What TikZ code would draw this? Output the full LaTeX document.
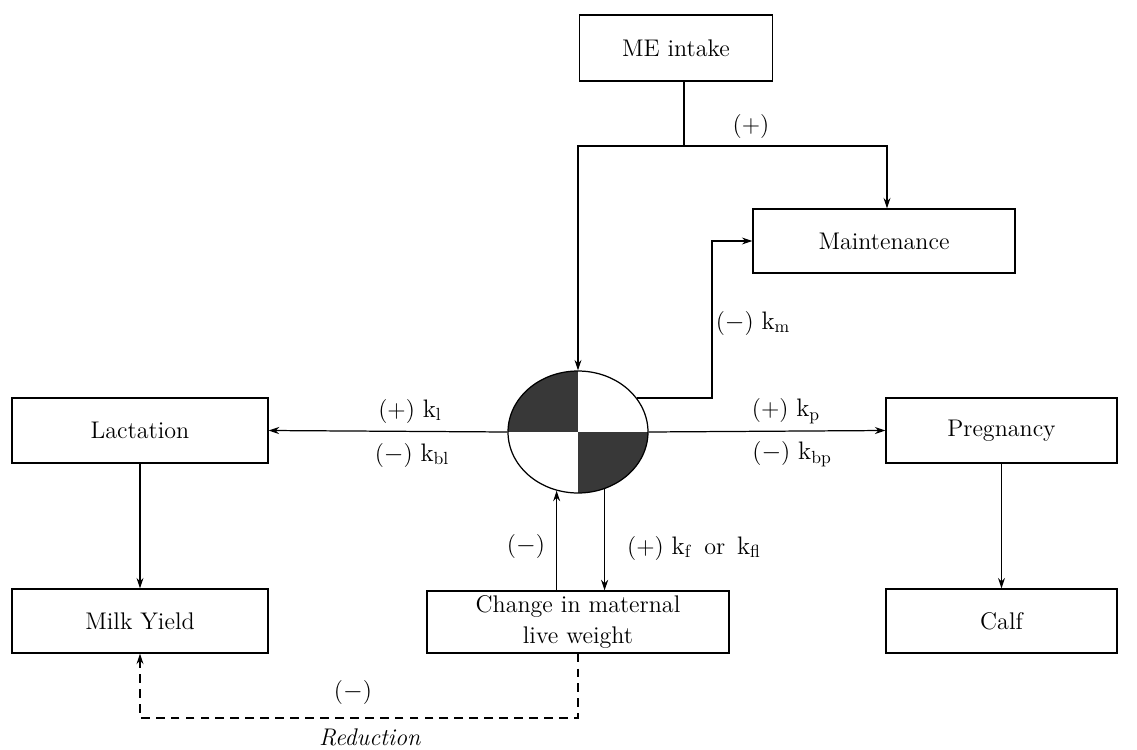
\documentclass[tikz,border=0pt]{standalone}
\usetikzlibrary{arrows.meta,shapes.geometric}
\begin{document}
\begin{tikzpicture}[x=0.02cm,y=-0.02cm,
  line width=0.7pt,
  font=\fontsize{13.7}{16}\selectfont,
  box/.style={draw,rectangle,inner sep=0pt,align=center},
  arr/.style={-{Stealth[length=6pt,width=4pt]}},
  lbl/.style={inner sep=1pt}]
\useasboundingbox (0,0) rectangle (1137,750);
% boxes
\node[box,minimum width=3.86cm,minimum height=1.32cm] (me) at (676,48) {ME intake};
\node[box,minimum width=5.24cm,minimum height=1.28cm] (maint) at (884,241) {Maintenance};
\node[box,minimum width=5.12cm,minimum height=1.30cm] (lact) at (140,430.5) {Lactation};
\node[box,minimum width=4.62cm,minimum height=1.30cm] (preg) at (1001.5,430.5) {Pregnancy};
\node[box,minimum width=5.12cm,minimum height=1.28cm] (milk) at (140,621) {Milk Yield};
\node[box,minimum width=6.04cm,minimum height=1.24cm,text width=5.8cm,font=\fontsize{13.7}{17.5}\selectfont] (chg) at (578,622) {Change in maternal\\ live weight};
\node[box,minimum width=4.62cm,minimum height=1.28cm] (calf) at (1001.5,621) {Calf};
% partitioned circle
\coordinate (cc) at (578,432);
\begin{scope}
  \clip (cc) ellipse (1.4cm and 1.22cm);
  \fill[black!78] (cc) rectangle ++(-80,-70);
  \fill[black!78] (cc) rectangle ++(80,70);
\end{scope}
\node[draw,ellipse,minimum width=2.8cm,minimum height=2.44cm,inner sep=0pt] (c) at (cc) {};
% connectors
\coordinate (j) at (684,146);
\coordinate (jr) at (887,146);
\draw (me.south -| j) -- (j);
\draw[arr] (j) -| (c.north);
\draw[arr] (j) -- (jr) -- (maint.north -| jr);
\draw[arr] (c.30) -- (c.30 -| 712,0) |- (maint.west);
\draw[arr] (c.west) -- (lact.east);
\draw[arr] (c.east) -- (preg.west);
\draw[arr] (lact) -- (milk);
\draw[arr] (preg) -- (calf);
\draw[arr] (chg.north -| c.250) -- (c.250);
\draw[arr] (c.295) -- (chg.north -| c.295);
\coordinate (d1) at (578,718);
\draw[arr,dashed,dash pattern=on 5pt off 3.5pt] (chg.south) -- (d1) -| (milk.south);
% labels
\node[lbl] (lp) at (751,126) {(+)};
\node[lbl] (lkm) at (753,323) {($-$) $\mathrm{k_m}$};
\node[lbl] (lkl) at (410,411) {(+) $\mathrm{k_l}$};
\node[lbl] (lkbl) at (412,455) {($-$) $\mathrm{k_{bl}}$};
\node[lbl] (lkp) at (786,411) {(+) $\mathrm{k_p}$};
\node[lbl] (lkbp) at (792,454) {($-$) $\mathrm{k_{bp}}$};
\node[lbl] (lm) at (526,546) {($-$)};
\node[lbl] (lkf) at (694,548) {(+) $\mathrm{k_f}$\, or\, $\mathrm{k_{fl}}$};
\node[lbl] (lm2) at (353,692) {($-$)};
\node[lbl] (lred) at (370,737) {\textit{Reduction}};
\end{tikzpicture}
\end{document}
